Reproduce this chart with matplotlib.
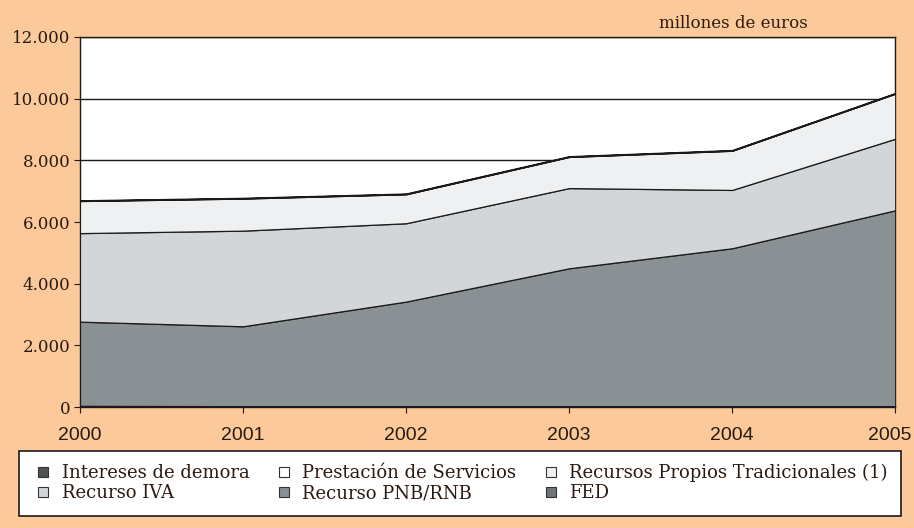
import numpy as np
import matplotlib.pyplot as plt
import matplotlib.transforms as mtransforms
from matplotlib.lines import Line2D

# millones de euros
years = [2000, 2001, 2002, 2003, 2004, 2005]
fed = [40, 30, 30, 30, 30, 30]
pnb = [2730, 2590, 3390, 4470, 5120, 6350]
iva = [2870, 3100, 2540, 2600, 1890, 2320]
rpt = [1040, 1040, 940, 1010, 1270, 1460]
prestacion = [10, 10, 10, 10, 10, 10]
intereses = [15, 15, 15, 15, 15, 15]

labels = ['FED', 'Recurso PNB/RNB', 'Recurso IVA', 'Recursos Propios Tradicionales (1)',
          'Prestación de Servicios', 'Intereses de demora']
colors = ['#6f7477', '#8a9194', '#d2d6d8', '#eef0f1', '#ffffff', '#4e5356']
yticks = [0, 2000, 4000, 6000, 8000, 10000, 12000]
ytick_labels = ['0', '2.000', '4.000', '6.000', '8.000', '10.000', '12.000']

bg = '#fbc99a'
fig = plt.figure(figsize=(9.14, 5.28), dpi=100, facecolor=bg)
ax = fig.add_axes([0.0875, 0.229, 0.892, 0.701])
ax.set_facecolor('white')

series = [fed, pnb, iva, rpt, prestacion, intereses]
ax.stackplot(years, series, colors=colors, edgecolor='#1a1a1a', linewidth=0.9, zorder=3)

ax.set_xlim(2000, 2005)
ax.set_ylim(0, 12000)
ax.set_yticks(yticks)
ax.set_yticklabels(ytick_labels, family='DejaVu Serif', fontsize=12, color='#2a1a10')
ax.set_xticks(years)
ax.set_xticklabels([str(y) for y in years], family='Liberation Sans', fontsize=14, color='#2a1a10')
ax.tick_params(axis='y', length=4, pad=3, color='#2a1a10')
ax.tick_params(axis='x', length=4, pad=10, color='#2a1a10')
# keep the last year label inside the figure
last = ax.get_xticklabels()[-1]
last.set_transform(last.get_transform() + mtransforms.ScaledTranslation(-0.06, 0, fig.dpi_scale_trans))
ax.grid(axis='y', color='#1a1a1a', linewidth=1.0, zorder=0)
ax.set_axisbelow(True)
for s in ax.spines.values():
    s.set_color('#1a1a1a')
    s.set_linewidth(1.0)

fig.text(0.802, 0.955, 'millones de euros', family='DejaVu Serif', fontsize=12,
         color='#2a1a10', ha='center', va='center')

# legend, row-major order as in the picture
order = [5, 2, 4, 1, 3, 0]
handles = [Line2D([], [], linestyle='none', marker='s', markersize=7,
                  markerfacecolor=colors[i], markeredgecolor='#333333', markeredgewidth=0.8)
           for i in order]
leg = fig.legend(handles, [labels[i] for i in order], ncol=3, loc='lower left',
                 bbox_to_anchor=(0.011, 0.006, 0.985, 0.138), mode='expand',
                 prop={'family': 'DejaVu Serif', 'size': 13}, frameon=True, fancybox=False,
                 edgecolor='#1a1a1a', facecolor='white', framealpha=1,
                 handletextpad=0.4, handlelength=1.2, columnspacing=1.0,
                 labelspacing=0.1, borderpad=0.75)
leg.get_frame().set_linewidth(1.2)
for t in leg.get_texts():
    t.set_color('#2a1a10')

fig.savefig('out.png', dpi=100, facecolor=bg)
